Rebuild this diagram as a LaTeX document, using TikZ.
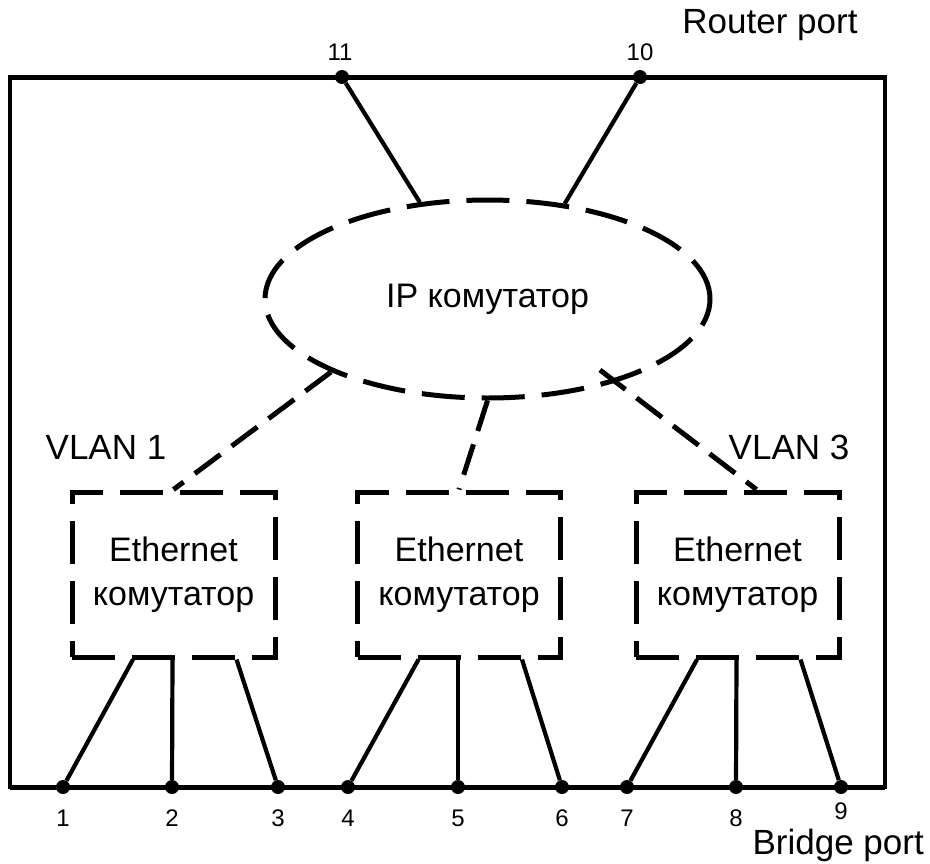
\documentclass[tikz,border=0pt]{standalone}
\usepackage{fontspec}
\setmainfont{Liberation Sans}
\usetikzlibrary{shapes.geometric}

\begin{document}
\begin{tikzpicture}[x=1pt,y=-1pt,
  frameline/.style={line width=5pt},
  sideline/.style={line width=3.5pt},
  link/.style={line width=4.2pt},
  dlink/.style={line width=5pt, dash pattern=on 32pt off 14pt},
  portdot/.style={circle, fill=black, inner sep=0pt, minimum size=14pt},
  portnum/.style={font=\fontsize{24}{28}\selectfont, inner sep=0pt},
  biglabel/.style={font=\fontsize{35}{40}\selectfont, inner sep=0pt},
  ipsw/.style={ellipse, draw, line width=5pt, dash pattern=on 43pt off 17pt,
    minimum width=445pt, minimum height=198pt, inner sep=0pt,
    font=\fontsize{34}{40}\selectfont},
  ethsw/.style={rectangle, draw, line width=5pt, dash pattern=on 43pt off 17pt,
    minimum width=203pt, minimum height=165pt, inner sep=0pt, align=center,
    font=\fontsize{34}{44}\selectfont}
]
\useasboundingbox (0,0) rectangle (930,863);

% device outline: thin sides, thick port rails
\draw[sideline] (10,77) rectangle (885,787);
\draw[frameline] (10,77) -- (885,77);
\draw[frameline] (10,787) -- (885,787);

% router ports
\node[portdot] (p11) at (342,77) {};
\node[portdot] (p10) at (640,77) {};
\node[portnum] at (340,52) {11};
\node[portnum] at (640,52) {10};

% bridge ports
\foreach \n/\x/\y in {1/63/818,2/172/818,3/278/818,4/348/818,5/458/818,
                      6/562/818,7/627/818,8/736/818,9/841/811}{
  \node[portdot] (p\n) at (\x,787) {};
  \node[portnum] at (\x,\y) {\n};
}

\node[biglabel] at (770,25) {Router port};
\node[biglabel, anchor=east] at (924,845) {Bridge port};
\node[biglabel] at (106,447) {VLAN 1};
\node[biglabel] at (789,447) {VLAN 3};

% switching elements
\node[ipsw] (ip) at (487.5,299) {IP комутатор};
\node[ethsw] (e1) at (173.5,574.5) {Ethernet\\комутатор};
\node[ethsw] (e2) at (459,574.5) {Ethernet\\комутатор};
\node[ethsw] (e3) at (737.5,574.5) {Ethernet\\комутатор};

% router port links
\draw[link] (p11) -- (ip.125.6);
\draw[link] (p10) -- (ip.51.4);

% VLAN links
\coordinate (v3) at (600,370);
\draw[dlink] (ip.205) -- (e1.north);
\draw[dlink] (ip.south) -- (e2.north);
\draw[dlink] (v3) -- ([xshift=19pt]e3.north);

% bridge port links
\foreach \b/\l/\m/\r in {e1/1/2/3, e2/4/5/6, e3/7/8/9}{
  \draw[link] ([xshift=-40.5pt]\b.south) -- (p\l);
  \draw[link] ([xshift=-1pt]\b.south) -- (p\m);
  \draw[link] ([xshift=63pt]\b.south) -- (p\r);
}
\end{tikzpicture}
\end{document}
